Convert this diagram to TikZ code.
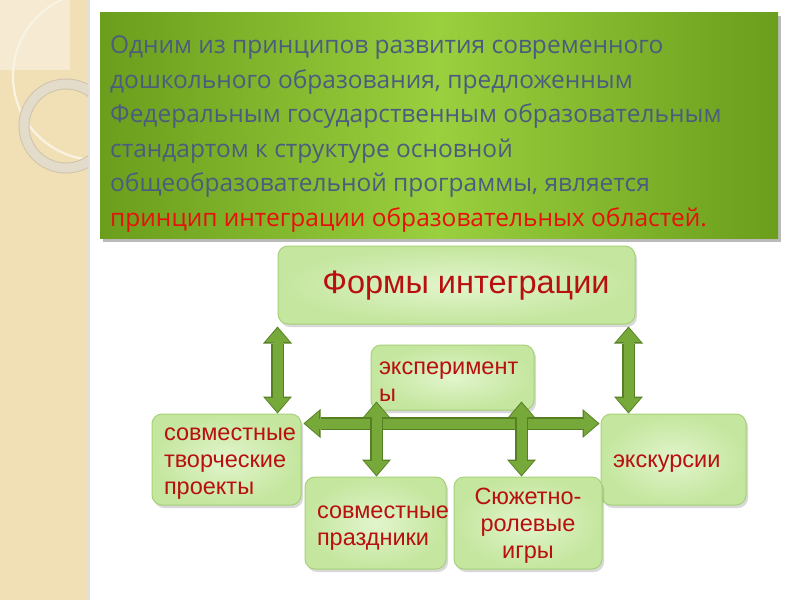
\documentclass[tikz,border=0pt]{standalone}
\usepackage{fontspec}
\setmainfont{Liberation Sans}
\newfontfamily\titlefont{Open Sans}
\usetikzlibrary{arrows.meta,shadows,calc}
\definecolor{beige}{HTML}{F1E0B6}
\definecolor{beigelight}{HTML}{F6EBD2}
\definecolor{ringc}{HTML}{E3DCCB}
\definecolor{ringedge}{HTML}{CFC4AA}
\definecolor{gdark}{HTML}{6A9E1C}
\definecolor{glight}{HTML}{9ACF3E}
\definecolor{titletxt}{HTML}{4C5C7E}
\definecolor{titlered}{HTML}{E8100A}
\definecolor{boxin}{HTML}{E2F5CC}
\definecolor{boxout}{HTML}{C4E69E}
\definecolor{boxedge}{HTML}{A6D178}
\definecolor{boxtxt}{HTML}{B80F0F}
\definecolor{arrdark}{HTML}{557F22}
\definecolor{arrfill}{HTML}{76A83A}
\tikzset{
  gbox/.style={draw=boxedge, line width=1pt, rounded corners=10pt,
    inner color=boxin, outer color=boxout,
    drop shadow={shadow xshift=2pt, shadow yshift=-3pt, opacity=0.25, fill=black!60},
    inner sep=0pt},
  gtext/.style={text=boxtxt, font=\fontsize{23.5}{27}\selectfont, inner sep=0pt},
  dblout/.style={draw=arrdark, line width=13pt,
    {Triangle[length=17pt,width=29pt,line width=0pt]}-{Triangle[length=17pt,width=29pt,line width=0pt]}},
  dblin/.style={draw=arrfill, line width=10pt, shorten >=1.6pt, shorten <=1.6pt,
    {Triangle[length=14pt,width=24.5pt,line width=0pt]}-{Triangle[length=14pt,width=24.5pt,line width=0pt]}},
}
\begin{document}
\begin{tikzpicture}[x=1pt,y=-1pt]
\useasboundingbox (0,0) rectangle (800,600);
\fill[white] (0,0) rectangle (800,600);
% left decorative band
\fill[beige] (0,0) rectangle (88,600);
\fill[black!12] (88,0) rectangle (90,600);
\begin{scope}
  \clip (0,0) rectangle (88,600);
  \fill[beigelight] (0,0) rectangle (70,70);
  \draw[white!60!beige, line width=2.2pt] (97,76) circle[radius=84];
  \draw[ringedge, line width=11pt] (66,126) circle[radius=42];
  \draw[ringc, line width=9pt] (66,126) circle[radius=42];
\end{scope}
% title box
\fill[black!45, opacity=0.6] (103,16) rectangle (781,242);
\shade[left color=gdark, right color=gdark, middle color=glight] (100,12) rectangle (778,238);
\node[anchor=north west, align=left, inner sep=0pt, text=titletxt,
  font=\titlefont\fontsize{24.5}{34.5}\selectfont] (title) at (110,36)
  {Одним из принципов развития современного\\
   дошкольного образования, предложенным\\
   Федеральным государственным образовательным\\
   стандартом к структуре основной\\
   общеобразовательной программы, является\\
   \textcolor{titlered}{принцип интеграции образовательных областей.}};
% boxes
\node[gbox, minimum width=357pt, minimum height=78pt] (forms) at (456.5,285) {};
\node[gbox, minimum width=163pt, minimum height=65pt] (exp) at (452.5,377.5) {};
\node[gbox, minimum width=149pt, minimum height=91pt] (proj) at (226.5,459.5) {};
\node[gbox, minimum width=145pt, minimum height=91pt] (exc) at (673.5,459.5) {};
\node[gbox, minimum width=141pt, minimum height=92pt] (holi) at (375.5,523) {};
\node[gbox, minimum width=148pt, minimum height=92pt] (game) at (528,523) {};
% texts
\node[gtext, font=\fontsize{32.5}{36}\selectfont] (formst) at (466,286) {Формы интеграции};
\node[gtext, text width=147pt, align=left] (expt) at ([yshift=-4pt]exp.center) {эксперимент\\ы};
\node[gtext, text width=125pt, align=left] (projt) at ([yshift=-4pt]proj.center) {совместные\\творческие\\проекты};
\node[gtext, text width=121pt, align=left] (exct) at ([yshift=-4pt]exc.center) {экскурсии};
\node[gtext, text width=117pt, align=left] (holit) at ([yshift=-5pt]holi.center) {совместные\\праздники};
\node[gtext, text width=140pt, align=center] (gamet) at ([yshift=-3pt]game.center) {Сюжетно-\\ролевые\\игры};
% connectors
\coordinate (l1) at ([xshift=0pt,yshift=-2pt]forms.south west);
\coordinate (l2) at (l1 |- proj.north);
\coordinate (r1) at ([xshift=-7pt,yshift=-2pt]forms.south east);
\coordinate (r2) at (r1 |- exc.north);
\coordinate (h1) at ([xshift=2pt,yshift=-10pt]proj.north east);
\coordinate (h2) at ([xshift=-1pt]exc.west |- h1);
\coordinate (v1t) at ([xshift=6pt,yshift=9pt]exp.south west);
\coordinate (v1b) at (v1t |- holi.north);
\coordinate (v2t) at ([xshift=-13pt,yshift=9pt]exp.south east);
\coordinate (v2b) at (v2t |- game.north);
\foreach \a/\b in {l1/l2, r1/r2, h1/h2, v1t/v1b, v2t/v2b}{
  \draw[dblout] (\a) -- (\b);
  \draw[dblin] (\a) -- (\b);
}
\end{tikzpicture}
\end{document}
